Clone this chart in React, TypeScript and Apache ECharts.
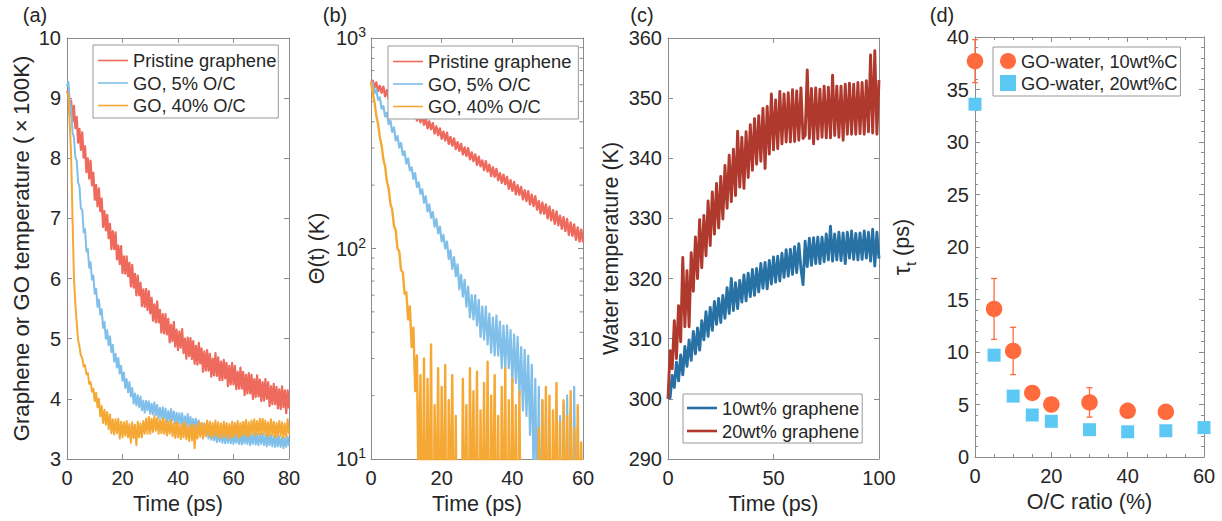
import React, { useEffect, useRef } from 'react';
import * as echarts from 'echarts';

const FONT = '"Liberation Sans", Arial, Helvetica, sans-serif';
const TXT = '#262626';
const AXC = '#8c8c8c';

// ---------- panel (a): temperature (x100 K) vs time, 0.5 ps sampling ----------
const A_DT = 0.5;
const aPristine = [
  9.08, 9.14, 8.72, 8.96, 8.61, 8.87, 8.50, 8.69, 8.26, 8.49,
  8.14, 8.43, 8.01, 8.20, 7.77, 8.00, 7.66, 7.96, 7.55, 7.76,
  7.31, 7.56, 7.20, 7.50, 7.12, 7.33, 6.86, 7.12, 6.80, 7.06,
  6.67, 6.91, 6.49, 6.79, 6.49, 6.77, 6.32, 6.55, 6.24, 6.54,
  6.09, 6.37, 6.08, 6.37, 6.04, 6.26, 5.87, 6.23, 5.85, 6.08,
  5.72, 6.05, 5.72, 5.93, 5.54, 5.82, 5.53, 5.83, 5.48, 5.79,
  5.42, 5.68, 5.30, 5.57, 5.27, 5.62, 5.27, 5.48, 5.10, 5.41,
  5.09, 5.41, 5.07, 5.33, 4.94, 5.23, 4.96, 5.28, 4.87, 5.15,
  4.81, 5.12, 4.85, 5.16, 4.76, 5.00, 4.67, 5.02, 4.71, 5.01,
  4.66, 4.96, 4.58, 4.88, 4.57, 4.93, 4.59, 4.84, 4.45, 4.79,
  4.47, 4.81, 4.47, 4.75, 4.37, 4.67, 4.39, 4.76, 4.38, 4.69,
  4.31, 4.62, 4.31, 4.65, 4.34, 4.60, 4.21, 4.55, 4.24, 4.60,
  4.24, 4.55, 4.16, 4.45, 4.17, 4.52, 4.17, 4.45, 4.06, 4.40,
  4.09, 4.43, 4.09, 4.40, 4.00, 4.33, 4.03, 4.39, 4.04, 4.32,
  3.96, 4.28, 3.97, 4.33, 4.00, 4.28, 3.88, 4.21, 3.91, 4.25,
  3.91, 4.20, 3.84, 4.16, 3.83, 4.21, 3.86, 4.14, 3.76, 4.14, 3.84,
];
const aGO5 = [
  9.20, 9.27, 8.95, 8.81, 8.43, 8.35, 8.02, 7.96, 7.60, 7.53,
  7.16, 7.15, 6.77, 6.82, 6.45, 6.49, 6.18, 6.27, 5.98, 6.05,
  5.75, 5.83, 5.53, 5.65, 5.40, 5.49, 5.18, 5.28, 5.00, 5.14,
  4.89, 5.04, 4.78, 4.90, 4.62, 4.75, 4.52, 4.68, 4.42, 4.55,
  4.30, 4.44, 4.18, 4.33, 4.11, 4.28, 4.04, 4.18, 3.92, 4.09,
  3.89, 4.06, 3.86, 4.04, 3.81, 3.97, 3.77, 3.97, 3.81, 3.96,
  3.75, 3.92, 3.74, 3.94, 3.73, 3.90, 3.67, 3.85, 3.68, 3.86,
  3.67, 3.84, 3.61, 3.80, 3.63, 3.83, 3.64, 3.79, 3.59, 3.77,
  3.59, 3.76, 3.59, 3.76, 3.55, 3.71, 3.54, 3.75, 3.54, 3.70,
  3.50, 3.67, 3.49, 3.67, 3.50, 3.64, 3.42, 3.60, 3.42, 3.59,
  3.38, 3.54, 3.34, 3.50, 3.32, 3.50, 3.31, 3.47, 3.28, 3.45,
  3.29, 3.47, 3.27, 3.43, 3.26, 3.45, 3.27, 3.45, 3.26, 3.43,
  3.25, 3.43, 3.27, 3.44, 3.25, 3.43, 3.24, 3.41, 3.26, 3.44,
  3.25, 3.43, 3.23, 3.41, 3.25, 3.43, 3.24, 3.41, 3.23, 3.42,
  3.25, 3.42, 3.23, 3.40, 3.21, 3.40, 3.23, 3.40, 3.21, 3.38,
  3.20, 3.38, 3.21, 3.38, 3.20, 3.36, 3.18, 3.35, 3.20, 3.37, 3.22,
];
const aGO40 = [
  9.10, 9.06, 8.58, 8.02, 6.98, 6.02, 5.58, 5.27, 4.98, 4.87,
  4.72, 4.68, 4.54, 4.56, 4.41, 4.43, 4.25, 4.28, 4.12, 4.17,
  3.96, 4.10, 3.86, 4.00, 3.71, 3.88, 3.60, 3.82, 3.57, 3.78,
  3.50, 3.74, 3.43, 3.66, 3.41, 3.66, 3.43, 3.67, 3.34, 3.62,
  3.36, 3.61, 3.39, 3.63, 3.36, 3.58, 3.27, 3.61, 3.35, 3.57,
  3.23, 3.62, 3.36, 3.59, 3.36, 3.63, 3.42, 3.67, 3.42, 3.70,
  3.42, 3.67, 3.45, 3.72, 3.47, 3.68, 3.42, 3.65, 3.43, 3.68,
  3.42, 3.65, 3.39, 3.62, 3.42, 3.65, 3.38, 3.60, 3.35, 3.61,
  3.36, 3.58, 3.33, 3.59, 3.36, 3.60, 3.33, 3.54, 3.30, 3.57,
  3.31, 3.57, 3.18, 3.56, 3.34, 3.61, 3.37, 3.60, 3.34, 3.59,
  3.38, 3.64, 3.40, 3.62, 3.36, 3.60, 3.38, 3.64, 3.39, 3.61,
  3.35, 3.59, 3.36, 3.62, 3.38, 3.60, 3.34, 3.58, 3.36, 3.62,
  3.36, 3.60, 3.39, 3.63, 3.35, 3.60, 3.38, 3.62, 3.40, 3.65,
  3.37, 3.61, 3.39, 3.64, 3.42, 3.66, 3.39, 3.63, 3.41, 3.67,
  3.41, 3.67, 3.42, 3.64, 3.38, 3.61, 3.39, 3.66, 3.40, 3.62,
  3.36, 3.60, 3.38, 3.63, 3.39, 3.61, 3.35, 3.59, 3.37, 3.66, 3.41,
];

// ---------- panel (b): Theta(t) in K (log scale), 0.5 ps sampling ----------
const B_DT = 0.5;
const bPristine = [
  617, 627, 582, 615, 560, 592, 550, 587, 529, 565,
  514, 549, 505, 539, 486, 514, 467, 504, 464, 495,
  441, 476, 433, 467, 426, 450, 405, 433, 398, 429,
  387, 417, 372, 402, 369, 394, 352, 380, 345, 372,
  332, 359, 326, 355, 314, 339, 308, 333, 297, 320,
  291, 314, 280, 302, 275, 300, 265, 286, 260, 280,
  250, 273, 246, 262, 236, 260, 232, 250, 221, 243,
  219, 239, 211, 228, 205, 224, 202, 219, 192, 211,
  188, 207, 181, 200, 180, 196, 171, 189, 168, 187,
  162, 180, 159, 177, 153, 168, 147, 165, 146, 162,
  139, 158, 136, 152, 131, 150, 129, 143, 124, 141,
  121, 138, 116, 133, 115, 130, 110, 126, 108, 123, 107,
];
const bGO5 = [
  620, 612, 547, 568, 508, 522, 462, 475, 424, 441,
  390, 405, 358, 376, 326, 342, 302, 317, 278, 289,
  253, 268, 235, 243, 214, 228, 196, 206, 182, 191,
  165, 177, 150, 162, 140, 149, 127, 138, 118, 127,
  108, 116, 100, 108, 89, 98, 80, 91, 74, 84,
  64, 75, 59, 71, 53, 66, 47, 60, 46, 60,
  43, 57, 38, 53, 37, 53, 35, 49, 32, 47,
  31, 48, 31, 45, 27, 43, 27, 43, 27, 41,
  23, 39, 23, 38, 20, 34, 17, 33, 16, 31,
  13, 28, 9, 24, 5, 22, 3, 19, 1, 16,
  1, 13, 1, 11, 1, 9, 1, 16, 1, 18,
  2, 20, 3, 17, 2, 22, 4, 14, 1, 9, 2,
];
const bGO40 = [
  620, 548, 494, 428, 391, 338, 309, 265, 245, 208,
  193, 163, 153, 128, 122, 100, 97, 79, 77, 61,
  62, 46, 53, 34, 42, 21, 31, 6, 25, 2,
  30, 2, 24, 3, 35, 1, 18, 4, 27, 2,
  22, 3, 28, 1, 19, 5, 25, 2, 16, 1,
  2, 1, 24, 3, 18, 1, 27, 4, 21, 2,
  26, 1, 17, 3, 23, 2, 29, 1, 20, 4,
  25, 2, 16, 1, 22, 3, 27, 1, 19, 2,
  24, 3, 18, 1, 21, 2, 1, 1, 1, 1,
  1, 1, 1, 1, 2, 14, 1, 19, 3, 22,
  2, 20, 1, 17, 4, 23, 2, 15, 1, 19,
  3, 16, 1, 21, 2, 14, 1, 18, 4, 12, 2,
];
const bMinorTicks = [20, 30, 40, 50, 60, 70, 80, 90, 200, 300, 400, 500, 600, 700, 800, 900];

// ---------- panel (c): water temperature (K), 1 ps sampling ----------
const C_DT = 1;
const c10wt = [
  300.0, 300.2, 303.9, 301.9, 306.1, 303.0, 307.3, 304.0, 308.7, 305.4,
  309.8, 306.4, 311.2, 307.5, 311.8, 308.1, 313.0, 309.8, 314.5, 310.4,
  315.2, 311.4, 316.2, 312.4, 316.7, 312.7, 317.2, 313.4, 318.5, 314.2,
  320.0, 314.7, 319.3, 315.0, 319.7, 316.1, 320.6, 316.3, 320.9, 317.0,
  321.5, 317.2, 321.7, 317.8, 322.5, 318.4, 322.7, 318.3, 323.0, 319.1,
  323.6, 319.4, 323.7, 319.6, 324.2, 320.2, 324.8, 320.4, 324.9, 320.7,
  325.3, 321.0, 325.8, 321.7, 319.0, 326.2, 322.0, 326.7, 322.2, 326.8,
  322.5, 326.9, 322.5, 326.9, 322.8, 327.4, 323.1, 328.7, 322.9, 327.4,
  323.1, 327.7, 323.0, 327.6, 322.5, 327.7, 323.4, 327.9, 323.2, 327.5,
  323.1, 327.6, 323.2, 327.9, 323.4, 327.7, 322.9, 328.2, 322.1, 327.7, 323.3,
];
const c20wt = [
  300.0, 308.0, 305.0, 313.0, 306.7, 315.5, 309.5, 323.5, 312.0, 321.3,
  312.0, 324.3, 317.9, 326.9, 320.0, 329.8, 321.8, 330.5, 323.8, 332.9,
  325.5, 334.4, 327.4, 335.8, 328.4, 337.0, 329.9, 338.8, 331.7, 340.5,
  332.8, 341.5, 333.8, 344.5, 335.2, 343.5, 335.0, 344.4, 336.8, 345.6,
  338.0, 346.6, 339.0, 347.1, 339.5, 348.3, 338.3, 348.6, 340.7, 350.7,
  341.4, 349.7, 341.6, 351.1, 342.4, 350.7, 342.7, 350.9, 342.7, 351.4,
  342.8, 351.2, 343.0, 351.7, 343.3, 343.8, 354.7, 343.3, 351.6, 342.4,
  351.7, 343.2, 351.5, 343.5, 352.0, 343.4, 351.8, 343.4, 353.8, 343.8,
  352.0, 343.5, 352.0, 343.0, 352.3, 344.0, 352.5, 344.0, 352.3, 344.0,
  352.6, 344.1, 352.6, 344.0, 352.9, 344.4, 357.2, 344.2, 357.9, 344.0, 353.0,
];

// ---------- panel (d): tau_t vs O/C ratio ----------
const dCircX = [0, 5, 10, 15, 20, 30, 40, 50];
const dCircY = [37.7, 14.1, 10.1, 6.1, 5.0, 5.2, 4.4, 4.3];
const dCircErr = [2.05, 2.9, 2.25, 0.5, 0.4, 1.4, 0.3, 0.3];
const dSqX = [0, 5, 10, 15, 20, 30, 40, 50, 60];
const dSqY = [33.6, 9.7, 5.8, 4.0, 3.4, 2.6, 2.4, 2.5, 2.8];

const COL_RED = '#EE6A5D';
const COL_BLUE = '#80BFEA';
const COL_ORANGE = '#F5A834';
const COL_C10 = '#2771A5';
const COL_C20 = '#B0392E';
const COL_DCIRC = '#FF6B3D';
const COL_DSQ = '#5DC8F4';

const toPairs = (arr: number[], dt: number) => arr.map((v, i) => [i * dt, v]);

const axisLine = { show: true, onZero: false, lineStyle: { color: AXC, width: 1 } };
const axisTick = { show: true, inside: true, length: 5, lineStyle: { color: AXC, width: 1 } };
const labelStyle = { color: TXT, fontSize: 20, fontFamily: FONT };
const nameStyle = { color: TXT, fontSize: 21.5, fontFamily: FONT };

function xPair(gridIndex: number, min: number, max: number, interval: number, name: string, minor?: any) {
  return [
    {
      type: 'value', gridIndex, position: 'bottom', min, max, interval,
      name, nameLocation: 'middle', nameGap: 31, nameTextStyle: nameStyle,
      axisLine, axisTick, splitLine: { show: false },
      minorTick: minor, axisLabel: { ...labelStyle, margin: 9 },
    },
    {
      type: 'value', gridIndex, position: 'top', min, max, interval,
      axisLine, axisTick, splitLine: { show: false }, minorTick: minor,
      axisLabel: { show: false },
    },
  ];
}

function yPair(gridIndex: number, min: number, max: number, interval: number, name: any, nameGap: number, extra: any = {}, minor?: any) {
  return [
    {
      type: 'value', gridIndex, position: 'left', min, max, interval,
      name, nameLocation: 'middle', nameGap, nameTextStyle: nameStyle,
      axisLine, axisTick, splitLine: { show: false }, minorTick: minor,
      axisLabel: { ...labelStyle, margin: 6 },
      ...extra,
    },
    {
      type: 'value', gridIndex, position: 'right', min, max, interval,
      axisLine, axisTick, splitLine: { show: false }, minorTick: minor,
      axisLabel: { show: false },
    },
  ];
}

const lineSeries = (name: string, data: number[][], color: string, xi: number, yi: number, width = 1) => ({
  type: 'line', name, data, xAxisIndex: xi, yAxisIndex: yi,
  showSymbol: false, symbol: 'none', silent: true, clip: true,
  lineStyle: { color, width, join: 'round' }, itemStyle: { color }, color,
  emphasis: { disabled: true },
});

const legendBase = {
  orient: 'vertical', icon: 'rect', itemWidth: 30, itemHeight: 1.6,
  borderColor: '#999', borderWidth: 1, backgroundColor: '#fff', selectedMode: false,
  textStyle: { fontSize: 18.3, fontFamily: FONT, color: TXT, lineHeight: 19 },
};

const option: any = {
  animation: false,
  backgroundColor: '#fff',
  grid: [
    { left: 67, top: 38, width: 222, height: 421 },
    { left: 371, top: 38, width: 212, height: 421 },
    { left: 668, top: 38, width: 211, height: 421 },
    { left: 975, top: 37, width: 229, height: 420 },
  ],
  xAxis: [
    ...xPair(0, 0, 80, 20, 'Time (ps)'),
    ...xPair(1, 0, 60, 20, 'Time (ps)'),
    ...xPair(2, 0, 100, 50, 'Time (ps)'),
    ...xPair(3, 0, 60, 20, 'O/C ratio (%)', { show: true, splitNumber: 4, length: 3, lineStyle: { color: AXC } }),
  ],
  yAxis: [
    ...yPair(0, 3, 10, 1, 'Graphene or GO temperature (\u2009×\u2009100K)', 35, {
      nameTextStyle: { ...nameStyle, fontSize: 22.2 },
    }),
    {
      type: 'log', logBase: 10, gridIndex: 1, position: 'left', min: 10, max: 1000,
      name: 'Θ(t) (K)', nameLocation: 'middle', nameGap: 43, nameTextStyle: nameStyle,
      axisLine, axisTick, splitLine: { show: false },
      axisLabel: {
        ...labelStyle, margin: 5,
        formatter: (v: number) => '{b|10}{sup|' + Math.round(Math.log10(v)) + '}',
        rich: {
          b: { fontSize: 20, fontFamily: FONT, color: TXT, lineHeight: 26 },
          sup: { fontSize: 14, fontFamily: FONT, color: TXT, lineHeight: 14, verticalAlign: 'top' },
        },
      },
    },
    {
      type: 'log', logBase: 10, gridIndex: 1, position: 'right', min: 10, max: 1000,
      axisLine, axisTick, splitLine: { show: false }, axisLabel: { show: false },
    },
    ...yPair(2, 290, 360, 10, 'Water temperature (K)', 46),
    ...yPair(3, 0, 40, 5, '{tau|τ}{sub|t}{n| (ps)}', 57, {
      nameTextStyle: {
        ...nameStyle,
        rich: {
          tau: { fontSize: 23, fontFamily: FONT, color: TXT, lineHeight: 32 },
          sub: { fontSize: 15, fontFamily: FONT, color: TXT, lineHeight: 15, verticalAlign: 'bottom' },
          n: { fontSize: 21.5, fontFamily: FONT, color: TXT, lineHeight: 32 },
        },
      },
    }, { show: true, splitNumber: 5, length: 3, lineStyle: { color: AXC } }),
  ],
  legend: [
    {
      ...legendBase, left: 93, top: 45, itemGap: 3.5, padding: [6, 2, 3, 5],
      data: ['Pristine graphene', 'GO, 5% O/C', 'GO, 40% O/C'],
    },
    {
      ...legendBase, left: 388, top: 46, itemGap: 3.5, padding: [6, 2, 3, 5],
      data: ['Pristine graphene ', 'GO, 5% O/C ', 'GO, 40% O/C '],
    },
    {
      ...legendBase, left: 683, top: 394, itemGap: 4, padding: [4.5, 3, 2.5, 4], itemHeight: 2.6,
      data: ['10wt% graphene', '20wt% graphene'],
    },
    {
      ...legendBase, left: 993, top: 47, itemGap: 3, padding: [4.5, 3, 3.5, 7],
      itemWidth: 16, itemHeight: 16,
      data: [{ name: 'GO-water, 10wt%C', icon: 'circle' }, { name: 'GO-water, 20wt%C', icon: 'rect' }],
    },
  ],
  graphic: [
    { type: 'text', x: 35, y: 15, style: { text: '(a)', fontSize: 20, fontFamily: FONT, fill: TXT, align: 'center', verticalAlign: 'middle' } },
    { type: 'text', x: 335, y: 15, style: { text: '(b)', fontSize: 20, fontFamily: FONT, fill: TXT, align: 'center', verticalAlign: 'middle' } },
    { type: 'text', x: 642, y: 15, style: { text: '(c)', fontSize: 20, fontFamily: FONT, fill: TXT, align: 'center', verticalAlign: 'middle' } },
    { type: 'text', x: 942, y: 15, style: { text: '(d)', fontSize: 20, fontFamily: FONT, fill: TXT, align: 'center', verticalAlign: 'middle' } },
  ],
  series: [
    lineSeries('Pristine graphene', toPairs(aPristine, A_DT), COL_RED, 0, 0, 2.2),
    lineSeries('GO, 5% O/C', toPairs(aGO5, A_DT), COL_BLUE, 0, 0, 2),
    lineSeries('GO, 40% O/C', toPairs(aGO40, A_DT), COL_ORANGE, 0, 0, 2),

    lineSeries('Pristine graphene ', toPairs(bPristine, B_DT), COL_RED, 2, 2, 2.4),
    lineSeries('GO, 5% O/C ', toPairs(bGO5, B_DT), COL_BLUE, 2, 2, 2.2),
    lineSeries('GO, 40% O/C ', toPairs(bGO40, B_DT), COL_ORANGE, 2, 2, 2.4),
    {
      type: 'custom', xAxisIndex: 2, yAxisIndex: 2, silent: true,
      data: bMinorTicks.map((v) => [0, v]),
      encode: { x: 0, y: 1 },
      renderItem: (_p: any, api: any) => {
        const v = api.value(1);
        const pl = api.coord([0, v]);
        const pr = api.coord([60, v]);
        return {
          type: 'group',
          children: [
            { type: 'line', shape: { x1: pl[0], y1: pl[1], x2: pl[0] + 3.5, y2: pl[1] }, style: { stroke: AXC, lineWidth: 1 } },
            { type: 'line', shape: { x1: pr[0], y1: pr[1], x2: pr[0] - 3.5, y2: pr[1] }, style: { stroke: AXC, lineWidth: 1 } },
          ],
        };
      },
    },

    lineSeries('10wt% graphene', toPairs(c10wt, C_DT), COL_C10, 4, 4, 2.9),
    lineSeries('20wt% graphene', toPairs(c20wt, C_DT), COL_C20, 4, 4, 2.9),

    {
      type: 'custom', xAxisIndex: 6, yAxisIndex: 6, silent: true, z: 2,
      data: dCircX.map((x, i) => [x, dCircY[i] - dCircErr[i], dCircY[i] + dCircErr[i]]),
      encode: { x: 0, y: [1, 2] },
      renderItem: (_p: any, api: any) => {
        const lo = api.coord([api.value(0), api.value(1)]);
        const hi = api.coord([api.value(0), api.value(2)]);
        const w = 3;
        const st = { stroke: COL_DCIRC, lineWidth: 1.3 };
        return {
          type: 'group',
          children: [
            { type: 'line', shape: { x1: lo[0], y1: lo[1], x2: hi[0], y2: hi[1] }, style: st },
            { type: 'line', shape: { x1: hi[0] - w, y1: hi[1], x2: hi[0] + w, y2: hi[1] }, style: st },
            { type: 'line', shape: { x1: lo[0] - w, y1: lo[1], x2: lo[0] + w, y2: lo[1] }, style: st },
          ],
        };
      },
    },
    {
      type: 'scatter', name: 'GO-water, 10wt%C', xAxisIndex: 6, yAxisIndex: 6, z: 3,
      data: dCircX.map((x, i) => [x, dCircY[i]]), symbol: 'circle', symbolSize: 16.5,
      itemStyle: { color: COL_DCIRC, opacity: 1 }, clip: false, silent: true,
    },
    {
      type: 'scatter', name: 'GO-water, 20wt%C', xAxisIndex: 6, yAxisIndex: 6, z: 3,
      data: dSqX.map((x, i) => [x, dSqY[i]]), symbol: 'rect', symbolSize: 13,
      itemStyle: { color: COL_DSQ, opacity: 1 }, clip: false, silent: true,
    },
  ],
};

export default function App() {
  const ref = useRef<HTMLDivElement>(null);
  useEffect(() => {
    if (!ref.current) return;
    const chart = echarts.init(ref.current, null, { renderer: 'svg' });
    chart.setOption(option);
    return () => chart.dispose();
  }, []);
  return (
    <div
      ref={ref}
      style={{ position: 'fixed', left: 0, top: 0, width: 1222, height: 521, background: '#fff' }}
    />
  );
}
